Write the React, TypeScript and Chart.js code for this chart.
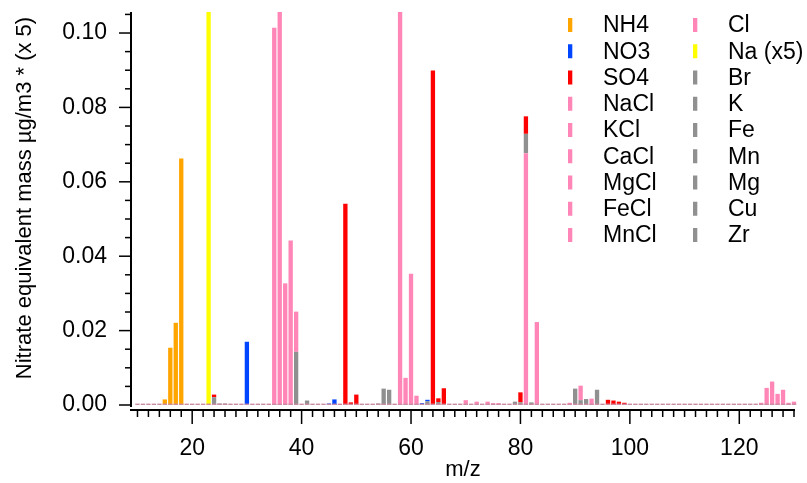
import React, { useEffect, useRef } from 'react';
import { Chart, registerables } from 'chart.js';

Chart.register(...registerables);

// ---------- DATA ----------
// every m/z on the axis carries a (near) zero baseline bar
const mzAll = [
  10, 11, 12, 13, 14, 15, 16, 17, 18, 19,
  20, 21, 22, 23, 24, 25, 26, 27, 28, 29,
  30, 31, 32, 33, 34, 35, 36, 37, 38, 39,
  40, 41, 42, 43, 44, 45, 46, 47, 48, 49,
  50, 51, 52, 53, 54, 55, 56, 57, 58, 59,
  60, 61, 62, 63, 64, 65, 66, 67, 68, 69,
  70, 71, 72, 73, 74, 75, 76, 77, 78, 79,
  80, 81, 82, 83, 84, 85, 86, 87, 88, 89,
  90, 91, 92, 93, 94, 95, 96, 97, 98, 99,
  100, 101, 102, 103, 104, 105, 106, 107, 108, 109,
  110, 111, 112, 113, 114, 115, 116, 117, 118, 119,
  120, 121, 122, 123, 124, 125, 126, 127, 128, 129,
  130,
];
const baselineLevel = 0;

const NH4_mz = [15, 16, 17, 18];
const NH4_val = [0.0015, 0.0154, 0.0221, 0.0663];

const NO3_mz = [30, 45, 46, 62, 63];
const NO3_val = [0.0170, 0.0004, 0.0015, 0.0005, 0.0004];

const SO4_mz = [24, 48, 49, 50, 64, 65, 66, 80, 81, 96, 97, 98, 99];
const SO4_val = [0.0007, 0.0541, 0.0007, 0.0028, 0.0899, 0.0010, 0.0045, 0.0027, 0.0047, 0.0014, 0.0012, 0.0009, 0.0006];

const NaCl_mz = [58, 60, 81, 83];
const NaCl_val = [0.130, 0.0353, 0.0677, 0.0223];

const KCl_mz = [39, 76];
const KCl_val = [0.0108, 0.0005];

const CaCl_mz = [75];
const CaCl_val = [0.0005];

const MgCl_mz = [59, 61];
const MgCl_val = [0.0073, 0.0025];

const FeCl_mz = [91, 93, 126, 128, 130];
const FeCl_val = [0.0039, 0.0017, 0.0063, 0.0041, 0.0009];

const MnCl_mz = [124, 125, 127, 129];
const MnCl_val = [0.0006, 0.0046, 0.0030, 0.0006];

const Cl_mz = [35, 36, 37, 38, 70, 72, 74, 89];
const Cl_val = [0.1014, 0.115, 0.0327, 0.0442, 0.0013, 0.0009, 0.0009, 0.0006];

const Na_mz = [23];
const Na_val = [0.120];

const Br_mz = [79, 80, 81, 82];
const Br_val = [0.0009, 0.0007, 0.0052, 0.0007];

const K_mz = [39, 41];
const K_val = [0.0143, 0.0012];

const Fe_mz = [54, 56];
const Fe_val = [0.0004, 0.0041];

const Mn_mz = [55];
const Mn_val = [0.0044];

const Mg_mz = [24, 25, 26];
const Mg_val = [0.0021, 0.0004, 0.0004];

const Cu_mz = [63, 65];
const Cu_val = [0.0010, 0.0008];

const Zr_mz = [90, 91, 92, 94];
const Zr_val = [0.0044, 0.0013, 0.0016, 0.0041];

const xMajorTicks = [20, 40, 60, 80, 100, 120];
const yMajorTicks = [0, 0.02, 0.04, 0.06, 0.08, 0.1];

const xTitle = 'm/z';
const yTitle = 'Nitrate equivalent mass \u00B5g/m3 * (x 5)';

// ---------- STYLE ----------
const ORANGE = '#FFA500';
const BLUE = '#0045FF';
const RED = '#FF0000';
const PINK = '#FF86B6';
const YELLOW = '#FFFF00';
const GRAY = '#909090';
const BASE = '#C98CA2';
const FONT = 'Liberation Sans, Arial, Helvetica, sans-serif';

const series = [
  { label: 'NH4', color: ORANGE, mz: NH4_mz, val: NH4_val, order: 17 },
  { label: 'NO3', color: BLUE, mz: NO3_mz, val: NO3_val, order: 15 },
  { label: 'SO4', color: RED, mz: SO4_mz, val: SO4_val, order: 16 },
  { label: 'NaCl', color: PINK, mz: NaCl_mz, val: NaCl_val, order: 0 },
  { label: 'KCl', color: PINK, mz: KCl_mz, val: KCl_val, order: 8 },
  { label: 'CaCl', color: PINK, mz: CaCl_mz, val: CaCl_val, order: 10 },
  { label: 'MgCl', color: PINK, mz: MgCl_mz, val: MgCl_val, order: 11 },
  { label: 'FeCl', color: PINK, mz: FeCl_mz, val: FeCl_val, order: 9 },
  { label: 'MnCl', color: PINK, mz: MnCl_mz, val: MnCl_val, order: 12 },
  { label: 'Cl', color: PINK, mz: Cl_mz, val: Cl_val, order: 13 },
  { label: 'Na (x5)', color: YELLOW, mz: Na_mz, val: Na_val, order: 14 },
  { label: 'Br', color: GRAY, mz: Br_mz, val: Br_val, order: 5 },
  { label: 'K', color: GRAY, mz: K_mz, val: K_val, order: 2 },
  { label: 'Fe', color: GRAY, mz: Fe_mz, val: Fe_val, order: 7 },
  { label: 'Mn', color: GRAY, mz: Mn_mz, val: Mn_val, order: 6 },
  { label: 'Mg', color: GRAY, mz: Mg_mz, val: Mg_val, order: 3 },
  { label: 'Cu', color: GRAY, mz: Cu_mz, val: Cu_val, order: 4 },
  { label: 'Zr', color: GRAY, mz: Zr_mz, val: Zr_val, order: 1 },
];

const clipBox = { left: 6, right: 6, top: 0, bottom: 6 };

const datasets: any[] = series.map((s) => ({
  label: s.label,
  data: s.mz.map((m, i) => ({ x: m, y: s.val[i] })),
  backgroundColor: s.color,
  borderWidth: 0,
  order: s.order,
  clip: clipBox,
}));

datasets.push({
  label: '',
  data: mzAll.map((m) => ({ x: m, y: baselineLevel })),
  backgroundColor: BASE,
  borderWidth: 0,
  minBarLength: 1.4,
  order: -1,
  clip: clipBox,
});

// ---------- PLUGINS ----------
const axesPlugin = {
  id: 'igorAxes',
  afterDraw(chart: any) {
    const { ctx, chartArea } = chart;
    const xs = chart.scales.x;
    const ys = chart.scales.y;
    const y0 = ys.getPixelForValue(0);
    const axisY = chartArea.bottom + 5;
    const axisX = chartArea.left - 1;
    ctx.save();
    ctx.strokeStyle = '#000';
    ctx.lineWidth = 2;
    ctx.beginPath();
    ctx.moveTo(axisX, chartArea.top);
    ctx.lineTo(axisX, y0 + 2);
    ctx.stroke();
    ctx.beginPath();
    ctx.moveTo(axisX - 1, axisY);
    ctx.lineTo(chartArea.right + 1, axisY);
    ctx.stroke();
    ctx.lineWidth = 1.5;
    for (let k = 0; k <= 21; k++) {
      const v = k * 0.005;
      const py = ys.getPixelForValue(v);
      const len = k % 4 === 0 ? 12 : 6;
      ctx.beginPath();
      ctx.moveTo(axisX - len, py);
      ctx.lineTo(axisX, py);
      ctx.stroke();
    }
    for (let m = 10; m <= 130; m += 2) {
      const px = xs.getPixelForValue(m);
      const len = m % 20 === 0 ? 14 : 7;
      ctx.beginPath();
      ctx.moveTo(px, axisY);
      ctx.lineTo(px, axisY + len);
      ctx.stroke();
    }
    // y axis title
    ctx.save();
    ctx.translate(25, 198);
    ctx.rotate(-Math.PI / 2);
    ctx.font = `22px ${FONT}`;
    ctx.fillStyle = '#000';
    ctx.textAlign = 'center';
    ctx.textBaseline = 'middle';
    ctx.fillText(yTitle, 0, 0);
    ctx.restore();
    ctx.restore();
  },
};

const legendPlugin = {
  id: 'twoColLegend',
  afterDraw(chart: any) {
    const { ctx } = chart;
    const items = chart.data.datasets.filter((d: any) => d.label);
    ctx.save();
    ctx.font = `23px ${FONT}`;
    ctx.textBaseline = 'middle';
    ctx.textAlign = 'left';
    items.forEach((d: any, i: number) => {
      const col = Math.floor(i / 9);
      const row = i % 9;
      const cy = 25 + row * 26.25;
      const mx = col === 0 ? 568 : 693;
      const tx = col === 0 ? 603 : 728;
      ctx.fillStyle = d.backgroundColor;
      ctx.fillRect(mx, cy - 7, 4.3, 14);
      ctx.fillStyle = '#000';
      ctx.fillText(d.label, tx, cy + 1);
    });
    ctx.restore();
  },
};

export default function App() {
  const ref = useRef<HTMLCanvasElement>(null);
  useEffect(() => {
    document.body.style.margin = '0';
    const chart = new Chart(ref.current as HTMLCanvasElement, {
      type: 'bar',
      data: { datasets },
      options: {
        responsive: false,
        animation: false,
        devicePixelRatio: 1,
        layout: { padding: { left: 0, right: 13, top: 12, bottom: 0 } },
        datasets: { bar: { barPercentage: 0.79, categoryPercentage: 1 } },
        plugins: { legend: { display: false }, tooltip: { enabled: false } },
        scales: {
          x: {
            type: 'linear',
            min: 9,
            max: 130,
            offset: false,
            stacked: true,
            afterBuildTicks: (s: any) => { s.ticks = xMajorTicks.map((v) => ({ value: v })); },
            afterFit: (s: any) => {
              s.height = 78;
              s.paddingLeft = 0;
              s.paddingRight = 0;
            },
            grid: { display: false, drawTicks: false, offset: false },
            border: { display: false },
            ticks: {
              color: '#000',
              font: { family: FONT, size: 23 },
              padding: 30,
              maxRotation: 0,
              autoSkip: false,
              callback: (v: any) => String(v),
            },
            title: {
              display: true,
              text: xTitle,
              color: '#000',
              font: { family: FONT, size: 22 },
              padding: { top: 0, bottom: 0 },
            },
          },
          y: {
            type: 'linear',
            min: 0,
            max: 0.10565,
            stacked: true,
            afterBuildTicks: (s: any) => { s.ticks = yMajorTicks.map((v) => ({ value: v })); },
            afterFit: (s: any) => {
              s.width = 132;
              s.paddingTop = 0;
              s.paddingBottom = 0;
            },
            grid: { display: false, drawTicks: false },
            border: { display: false },
            ticks: {
              color: '#000',
              font: { family: FONT, size: 23 },
              padding: 25,
              callback: (v: any) => Number(v).toFixed(2),
            },
            title: { display: false },
          },
        },
      } as any,
      plugins: [axesPlugin, legendPlugin],
    });
    return () => chart.destroy();
  }, []);
  return (
    <div style={{ position: 'absolute', left: 0, top: 0, width: 807, height: 483, background: '#fff' }}>
      <canvas ref={ref} width={807} height={483} style={{ display: 'block', width: 807, height: 483 }} />
    </div>
  );
}
